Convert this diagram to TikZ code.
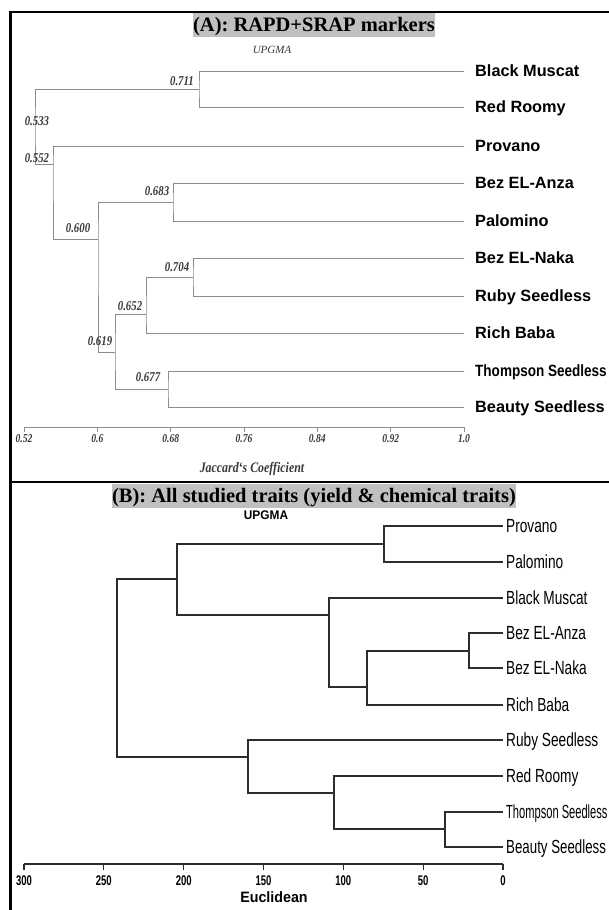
\documentclass[tikz,border=0pt]{standalone}
\usepackage{fontspec}
\setmainfont{Liberation Serif}
\setsansfont{Liberation Sans}
\usepackage{graphicx}
\definecolor{agray}{RGB}{140,140,140}
\definecolor{lgray}{RGB}{55,55,55}
\definecolor{titlegray}{RGB}{192,192,192}
\definecolor{bline}{RGB}{45,45,45}
\newcommand{\fsz}[1]{\fontsize{#1}{#1}\selectfont}
\newcommand{\sx}[2]{\scalebox{#1}[1]{#2}}
\tikzset{
  treeA/.style={draw=agray, line width=0.9pt},
  treeB/.style={draw=bline, line width=1.2pt},
  alab/.style={anchor=base west, inner sep=0pt, font=\sffamily\bfseries\fsz{16.3}},
  blab/.style={anchor=base west, inner sep=0pt, font=\sffamily\fsz{19}},
  val/.style={inner sep=0pt, text=lgray, font=\bfseries\itshape\fsz{13.5}},
  ticka/.style={inner sep=0pt, text=lgray, font=\bfseries\itshape\fsz{12}},
  tickb/.style={inner sep=0pt, font=\sffamily\bfseries\fsz{14}},
  paneltitle/.style={fill=titlegray, inner xsep=0pt, inner ysep=2pt, text height=16pt, text depth=4pt, anchor=base, font=\bfseries\fsz{20.5}},
  frameline/.style={draw=black}
}
\begin{document}
\begin{tikzpicture}[x=1pt,y=-1pt]
\useasboundingbox (0,0) rectangle (609,910);
% frame
\draw[frameline, line width=3pt] (10,11) -- (10,910);
\draw[frameline, line width=2pt] (8.5,12) -- (609,12);
\draw[frameline, line width=1.5pt] (10,482) -- (609,482);

% ---------------- Panel A ----------------
\node[paneltitle] (titleA) at (314,31) {(A): RAPD+SRAP markers};
\node[inner sep=0pt, text=lgray, font=\itshape\fsz{11}] (upgmaA) at (272,50) {UPGMA};

% leaves A
\coordinate (aBM) at (464,71);
\coordinate (aRR) at (464,107);
\coordinate (aPr) at (464,146);
\coordinate (aBA) at (464,183);
\coordinate (aPa) at (464,221);
\coordinate (aBN) at (464,258);
\coordinate (aRS) at (464,296);
\coordinate (aRB) at (464,333);
\coordinate (aTS) at (464,371);
\coordinate (aBS) at (464,407);

\node[alab] (lBM) at (475,76.8) {Black Muscat};
\node[alab] (lRR) at (475,112.8) {Red Roomy};
\node[alab] (lPr) at (475,151.8) {Provano};
\node[alab] (lBA) at (475,188.8) {Bez EL-Anza};
\node[alab] (lPa) at (475,226.8) {Palomino};
\node[alab] (lBN) at (475,263.8) {Bez EL-Naka};
\node[alab] (lRS) at (475,301.8) {Ruby Seedless};
\node[alab] (lRB) at (475,338.8) {Rich Baba};
\node[alab] (lTS) at (475,376.5) {\sx{0.83}{Thompson Seedless}};
\node[alab] (lBS) at (475,412.8) {Beauty Seedless};

% internal nodes A (x at node value, y at connection to parent)
\coordinate (n711) at (199,89);
\coordinate (n533) at (35,126);
\coordinate (n552) at (53,164);
\coordinate (n600) at (98,239);
\coordinate (n683) at (173,202);
\coordinate (n619) at (115,352);
\coordinate (n652) at (146,314);
\coordinate (n704) at (193,277);
\coordinate (n677) at (168,389);

\draw[treeA] (aBM) -| (n711) |- (aRR);
\draw[treeA] (n711) -| (n533) |- (n552);
\draw[treeA] (aPr) -| (n552) |- (n600);
\draw[treeA] (n683) -| (n600) |- (n619);
\draw[treeA] (aBA) -| (n683) |- (aPa);
\draw[treeA] (n652) -| (n619) |- (n677);
\draw[treeA] (n704) -| (n652) |- (aRB);
\draw[treeA] (aBN) -| (n704) |- (aRS);
\draw[treeA] (aTS) -| (n677) |- (aBS);

% node values A
\node[val] (v711) at (182,81) {\sx{0.8}{0.711}};
\node[val] (v533) at (37,121) {\sx{0.8}{0.533}};
\node[val] (v552) at (37,158) {\sx{0.8}{0.552}};
\node[val] (v683) at (157,191) {\sx{0.8}{0.683}};
\node[val] (v600) at (78,228) {\sx{0.8}{0.600}};
\node[val] (v704) at (177,267) {\sx{0.8}{0.704}};
\node[val] (v652) at (130,306) {\sx{0.8}{0.652}};
\node[val] (v619) at (100,341) {\sx{0.8}{0.619}};
\node[val] (v677) at (148,377) {\sx{0.8}{0.677}};

% axis A
\coordinate (axA0) at (24,427);
\coordinate (axA1) at (464,427);
\draw[treeA] (axA0) -- (axA1);
\foreach \xx/\lab [count=\i] in {24/0.52, 97.3/0.6, 170.7/0.68, 244/0.76, 317.3/0.84, 390.7/0.92, 464/1.0}{
  \draw[treeA] (\xx,427) -- (\xx,432);
  \node[ticka] (tA\i) at (\xx,439) {\sx{0.8}{\lab}};
}
\node[inner sep=0pt, text=lgray, font=\bfseries\itshape\fsz{14.5}] (jacc) at (252,469) {\sx{0.82}{Jaccard`s Coefficient}};

% ---------------- Panel B ----------------
\node[paneltitle] (titleB) at (314,502) {(B): All studied traits (yield \& chemical traits)};
\node[inner sep=0pt, font=\sffamily\bfseries\fsz{12.5}] (upgmaB) at (266,515) {\sx{0.95}{UPGMA}};

% leaves B
\coordinate (bPr) at (503,526);
\coordinate (bPa) at (503,562);
\coordinate (bBM) at (503,598);
\coordinate (bBA) at (503,633);
\coordinate (bBN) at (503,668);
\coordinate (bRB) at (503,705);
\coordinate (bRS) at (503,740);
\coordinate (bRR) at (503,776);
\coordinate (bTS) at (503,812);
\coordinate (bBS) at (503,847);

\node[blab] (mPr) at (506,532.8) {\sx{0.72}{Provano}};
\node[blab] (mPa) at (506,568.8) {\sx{0.72}{Palomino}};
\node[blab] (mBM) at (506,604.8) {\sx{0.72}{Black Muscat}};
\node[blab] (mBA) at (506,639.8) {\sx{0.72}{Bez EL-Anza}};
\node[blab] (mBN) at (506,674.8) {\sx{0.72}{Bez EL-Naka}};
\node[blab] (mRB) at (506,711.8) {\sx{0.72}{Rich Baba}};
\node[blab] (mRS) at (506,746.8) {\sx{0.72}{Ruby Seedless}};
\node[blab] (mRR) at (506,782.8) {\sx{0.72}{Red Roomy}};
\node[blab] (mTS) at (506,818.8) {\sx{0.585}{Thompson Seedless}};
\node[blab] (mBS) at (506,853.8) {\sx{0.7}{Beauty Seedless}};

% internal nodes B
\coordinate (m1) at (384,544);
\coordinate (m2) at (469,651);
\coordinate (m3) at (367,687);
\coordinate (m4) at (329,615);
\coordinate (m5) at (177,579);
\coordinate (m6) at (445,829);
\coordinate (m7) at (334,793);
\coordinate (m8) at (248,757);
\coordinate (mr) at (117,668);

\draw[treeB] (bPr) -| (m1) |- (bPa);
\draw[treeB] (bBA) -| (m2) |- (bBN);
\draw[treeB] (m2) -| (m3) |- (bRB);
\draw[treeB] (bBM) -| (m4) |- (m3);
\draw[treeB] (m1) -| (m5) |- (m4);
\draw[treeB] (bTS) -| (m6) |- (bBS);
\draw[treeB] (bRR) -| (m7) |- (m6);
\draw[treeB] (bRS) -| (m8) |- (m7);
\draw[treeB] (m5) -| (mr) |- (m8);

% axis B
\coordinate (axB0) at (24,864);
\coordinate (axB1) at (503,864);
\draw[treeB] (axB0) -- (axB1);
\foreach \xx/\lab [count=\i] in {24/300, 103.8/250, 183.7/200, 263.5/150, 343.3/100, 423.2/50, 503/0}{
  \draw[treeB] (\xx,864) -- (\xx,870);
  \node[tickb] (tB\i) at (\xx,881) {\sx{0.68}{\lab}};
}
\node[inner sep=0pt, font=\sffamily\bfseries\fsz{15}] (eucl) at (274,897) {\sx{0.95}{Euclidean}};
\end{tikzpicture}
\end{document}
